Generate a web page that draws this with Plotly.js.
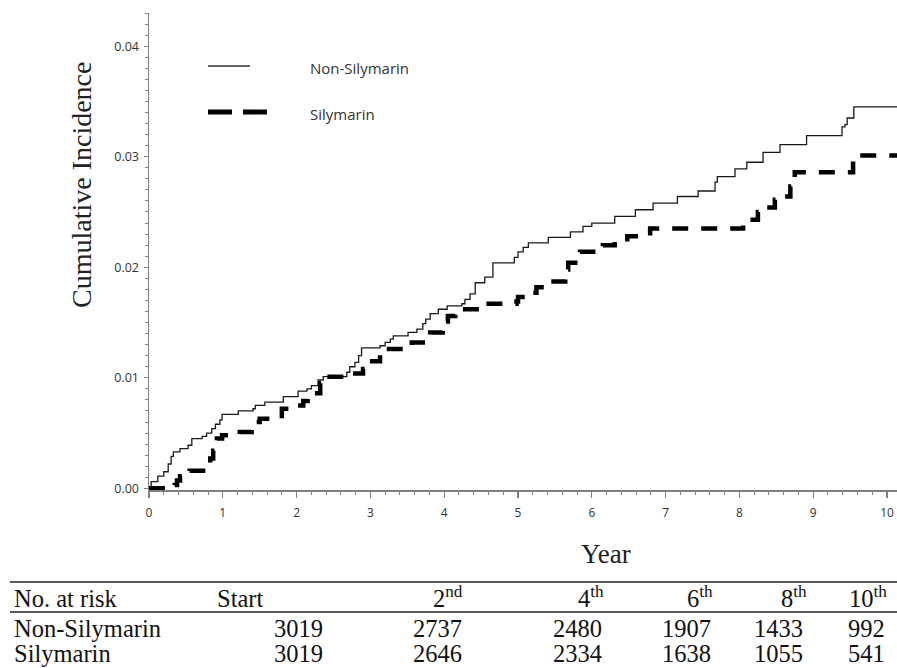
<!DOCTYPE html>
<html>
<head>
<meta charset="utf-8">
<script src="https://cdn.plot.ly/plotly-3.0.1.min.js"></script>
<style>html,body{margin:0;padding:0;background:#fff;}#chart{width:897px;height:668px;}</style>
</head>
<body>
<div id="chart"></div>
<script>
// ---- Data ----
const nonSilyYears = [0, 0.03, 0.12, 0.2, 0.26, 0.3, 0.33, 0.42, 0.53, 0.58, 0.72, 0.78, 0.85, 0.9, 0.96, 0.99, 1.21, 1.41, 1.44, 1.57, 1.82, 2.02, 2.14, 2.2, 2.29, 2.36, 2.68, 2.72, 2.79, 2.84, 2.88, 3.13, 3.2, 3.27, 3.31, 3.51, 3.63, 3.71, 3.75, 3.81, 3.92, 4.04, 4.24, 4.28, 4.35, 4.42, 4.55, 4.66, 4.95, 5.0, 5.07, 5.14, 5.41, 5.71, 5.88, 6.0, 6.31, 6.59, 6.83, 7.16, 7.44, 7.67, 7.7, 7.94, 8.1, 8.32, 8.55, 8.91, 9.39, 9.43, 9.46, 9.55, 10.2];
const nonSilyInc = [0, 0.0006, 0.0011, 0.0015, 0.0022, 0.0029, 0.0033, 0.0036, 0.0039, 0.0045, 0.0047, 0.005, 0.0054, 0.0058, 0.0062, 0.0067, 0.007, 0.0072, 0.0075, 0.0078, 0.0083, 0.0088, 0.009, 0.0093, 0.0098, 0.0101, 0.0105, 0.011, 0.0114, 0.012, 0.0127, 0.0129, 0.0132, 0.0135, 0.0138, 0.0141, 0.0144, 0.0149, 0.0153, 0.0158, 0.0162, 0.0165, 0.0167, 0.0171, 0.0176, 0.0186, 0.0191, 0.0204, 0.0209, 0.0214, 0.0218, 0.0222, 0.0227, 0.0232, 0.0237, 0.024, 0.0246, 0.0252, 0.0258, 0.0264, 0.0269, 0.0277, 0.0282, 0.0289, 0.0295, 0.0304, 0.0311, 0.0319, 0.0327, 0.0329, 0.0335, 0.0345, 0.0345];

const silyYears = [0, 0.35, 0.38, 0.42, 0.55, 0.83, 0.87, 0.92, 0.99, 1.23, 1.39, 1.45, 1.5, 1.8, 1.98, 2.09, 2.15, 2.22, 2.32, 2.36, 2.68, 2.9, 2.95, 3.13, 3.17, 3.44, 3.56, 3.71, 3.81, 3.98, 4.01, 4.05, 4.15, 4.53, 4.98, 5.0, 5.2, 5.25, 5.41, 5.64, 5.68, 5.84, 6.15, 6.31, 6.48, 6.79, 8.05, 8.07, 8.25, 8.28, 8.48, 8.51, 8.69, 8.73, 8.75, 9.54, 10.2];
const silyInc = [0, 0.0003, 0.0007, 0.0011, 0.0016, 0.0027, 0.0034, 0.0045, 0.0048, 0.0051, 0.0056, 0.006, 0.0063, 0.0072, 0.0075, 0.0079, 0.0083, 0.0086, 0.0095, 0.0101, 0.0104, 0.0108, 0.0115, 0.0122, 0.0126, 0.0129, 0.0132, 0.0137, 0.0141, 0.0147, 0.0151, 0.0156, 0.0162, 0.0167, 0.0169, 0.0173, 0.0177, 0.0182, 0.0187, 0.0198, 0.0204, 0.0214, 0.022, 0.0223, 0.0228, 0.0235, 0.024, 0.0243, 0.025, 0.0254, 0.0261, 0.0264, 0.0273, 0.0279, 0.0286, 0.0301, 0.0301];

const seriesNames = ['Non-Silymarin', 'Silymarin'];
const riskHeader = ['No. at risk', 'Start', '2<sup>nd</sup>', '4<sup>th</sup>', '6<sup>th</sup>', '8<sup>th</sup>', '10<sup>th</sup>'];
const riskNonSily = [3019, 2737, 2480, 1907, 1433, 992];
const riskSily = [3019, 2646, 2334, 1638, 1055, 541];

// ---- Layout helpers (pixel -> paper) ----
const L = 149, R = 897, T = 13, B = 490;
const px = x => (x - L) / (R - L);
const py = y => (B - y) / (B - T);

const serif = 'Liberation Serif, Times New Roman, serif';
const sans = 'Open Sans, DejaVu Sans, sans-serif';

const traces = [
  { x: nonSilyYears, y: nonSilyInc, name: seriesNames[0], type: 'scatter', mode: 'lines',
    line: { shape: 'hv', color: '#1a1a1a', width: 1.3 }, showlegend: false },
  { x: silyYears, y: silyInc, name: seriesNames[1], type: 'scatter', mode: 'lines',
    line: { shape: 'hv', color: '#000', width: 4.5, dash: '16px,13px' }, showlegend: false }
];

const annotations = [];
const shapes = [];

// Axis titles
annotations.push({ xref: 'paper', yref: 'paper', x: px(82), y: py(185), text: 'Cumulative Incidence',
  textangle: -90, showarrow: false, xanchor: 'center', yanchor: 'middle',
  font: { family: serif, size: 28, color: '#222' } });
annotations.push({ xref: 'paper', yref: 'paper', x: px(606), y: py(554), text: 'Year',
  showarrow: false, xanchor: 'center', yanchor: 'middle',
  font: { family: serif, size: 27, color: '#222' } });

// Custom legend
shapes.push({ type: 'line', xref: 'paper', yref: 'paper', x0: px(208), x1: px(250), y0: py(66), y1: py(66),
  line: { color: '#333', width: 1.5 } });
shapes.push({ type: 'line', xref: 'paper', yref: 'paper', x0: px(208), x1: px(267), y0: py(112), y1: py(112),
  line: { color: '#000', width: 5, dash: '24px,11px' } });
annotations.push({ xref: 'paper', yref: 'paper', x: px(308), y: py(68), text: seriesNames[0], showarrow: false,
  xanchor: 'left', yanchor: 'middle', font: { family: sans, size: 15, color: '#333' } });
annotations.push({ xref: 'paper', yref: 'paper', x: px(308), y: py(114), text: seriesNames[1], showarrow: false,
  xanchor: 'left', yanchor: 'middle', font: { family: sans, size: 15, color: '#333' } });

// Risk table
shapes.push({ type: 'line', xref: 'paper', yref: 'paper', x0: px(10), x1: px(897), y0: py(582), y1: py(582),
  line: { color: '#222', width: 1.5 } });
shapes.push({ type: 'line', xref: 'paper', yref: 'paper', x0: px(10), x1: px(897), y0: py(612), y1: py(612),
  line: { color: '#222', width: 1.5 } });

const tFont = { family: serif, size: 24.5, color: '#111' };
const lFont = { family: serif, size: 24.5, color: '#111' };
const headerRight = [463, 604, 713, 807, 887];
const valueRight = [323, 462, 602, 711, 803, 885];
const rowY = [598, 628, 653];

annotations.push({ xref: 'paper', yref: 'paper', x: px(12), y: py(rowY[0]), text: riskHeader[0], showarrow: false,
  xanchor: 'left', yanchor: 'middle', font: lFont });
annotations.push({ xref: 'paper', yref: 'paper', x: px(215), y: py(rowY[0]), text: riskHeader[1], showarrow: false,
  xanchor: 'left', yanchor: 'middle', font: lFont });
for (let i = 2; i < riskHeader.length; i++) {
  annotations.push({ xref: 'paper', yref: 'paper', x: px(headerRight[i - 2] + 2), y: py(rowY[0] - 1), text: riskHeader[i],
    showarrow: false, xanchor: 'right', yanchor: 'middle', font: tFont });
}
annotations.push({ xref: 'paper', yref: 'paper', x: px(12), y: py(rowY[1]), text: seriesNames[0], showarrow: false,
  xanchor: 'left', yanchor: 'middle', font: lFont });
annotations.push({ xref: 'paper', yref: 'paper', x: px(12), y: py(rowY[2]), text: seriesNames[1], showarrow: false,
  xanchor: 'left', yanchor: 'middle', font: lFont });
riskNonSily.forEach((v, i) => annotations.push({ xref: 'paper', yref: 'paper', x: px(valueRight[i] + 2), y: py(rowY[1]),
  text: String(v), showarrow: false, xanchor: 'right', yanchor: 'middle', font: tFont }));
riskSily.forEach((v, i) => annotations.push({ xref: 'paper', yref: 'paper', x: px(valueRight[i] + 2), y: py(rowY[2]),
  text: String(v), showarrow: false, xanchor: 'right', yanchor: 'middle', font: tFont }));

const axisColor = '#808080';
const layout = {
  width: 897, height: 668,
  margin: { l: L, r: 897 - R, t: T, b: 668 - B, pad: 0 },
  paper_bgcolor: '#fff', plot_bgcolor: '#fff',
  showlegend: false,
  xaxis: {
    range: [0, 10.135], dtick: 1, tick0: 0, showgrid: false, zeroline: false,
    showline: true, linecolor: axisColor, linewidth: 1.5,
    ticks: 'outside', ticklen: 6, tickwidth: 1.2, tickcolor: axisColor,
    minor: { dtick: 0.2, ticks: 'outside', ticklen: 3, tickwidth: 1, tickcolor: axisColor },
    tickfont: { family: sans, size: 12, color: '#333' }, ticklabelstandoff: 5
  },
  yaxis: {
    range: [-0.00015, 0.043], dtick: 0.01, tick0: 0, tickformat: '.2f', showgrid: false, zeroline: false,
    showline: true, linecolor: axisColor, linewidth: 1.5,
    ticks: 'outside', ticklen: 4, tickwidth: 1.2, tickcolor: axisColor,
    minor: { dtick: 0.001, ticks: 'outside', ticklen: 3, tickwidth: 1, tickcolor: axisColor },
    tickfont: { family: sans, size: 12.5, color: '#333' }, ticklabelstandoff: 2
  },
  annotations: annotations,
  shapes: shapes
};

Plotly.newPlot('chart', traces, layout, { staticPlot: true, displayModeBar: false });
</script>
</body>
</html>
